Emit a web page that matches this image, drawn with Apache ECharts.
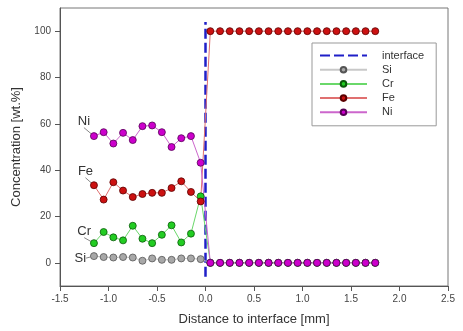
<!DOCTYPE html>
<html>
<head>
<meta charset="utf-8">
<script src="https://cdn.jsdelivr.net/npm/echarts@6/dist/echarts.min.js"></script>
<style>
  html, body { margin: 0; padding: 0; background: #fff; }
  #chart { width: 463px; height: 331px; }
</style>
</head>
<body>
<div id="chart"></div>
<script>
// distance to interface [mm]
const distance = [-1.15, -1.05, -0.95, -0.85, -0.75, -0.65, -0.55, -0.45, -0.35, -0.25, -0.15, -0.05,
  0.05, 0.15, 0.25, 0.35, 0.45, 0.55, 0.65, 0.75, 0.85, 0.95, 1.05, 1.15, 1.25, 1.35, 1.45, 1.55, 1.65, 1.75]

// concentration [wt.%]
const si = [2.9, 2.5, 2.3, 2.5, 2.3, 0.9, 1.9, 1.3, 1.3, 1.9, 1.9, 1.6,
  0, 0, 0, 0, 0, 0, 0, 0, 0, 0, 0, 0, 0, 0, 0, 0, 0, 0]
const cr = [8.5, 13.3, 11, 9.7, 16, 10.4, 8.5, 12.1, 16.2, 8.8, 12.6, 28.7,
  0, 0, 0, 0, 0, 0, 0, 0, 0, 0, 0, 0, 0, 0, 0, 0, 0, 0]
const fe = [33.5, 27.3, 34.8, 31.2, 28.4, 29.7, 30.2, 30.2, 32.3, 35.2, 30.6, 26.5,
  100, 100, 100, 100, 100, 100, 100, 100, 100, 100, 100, 100, 100, 100, 100, 100, 100, 100]
const ni = [54.7, 56.4, 51.5, 56.1, 53, 59, 59.3, 56.4, 50, 53.8, 54.7, 43.2,
  0, 0, 0, 0, 0, 0, 0, 0, 0, 0, 0, 0, 0, 0, 0, 0, 0, 0]

// interface marker line
const interfaceX = [0, 0]
const interfaceY = [-6, 104]

const yTicks = [0, 20, 40, 60, 80, 100]

const FONT = '"Liberation Sans", Arial, sans-serif'

const ELEMENTS = [
  { name: 'Si', values: si, line: '#c8c8c8', fill: '#a8a8a8', border: '#555555', shift: { dx: 1, dy: 2 } },
  { name: 'Cr', values: cr, line: '#6ad86a', fill: '#22cc22', border: '#0a5a0a', shift: { dx: 6, dy: -12 } },
  { name: 'Fe', values: fe, line: '#e07070', fill: '#cc1111', border: '#5a0000', shift: { dx: 8, dy: -14 } },
  { name: 'Ni', values: ni, line: '#cc66cc', fill: '#cc00cc', border: '#550055', shift: { dx: 5, dy: -15 } },
]

function buildSeries(el) {
  const data = distance.map((x, i) => {
    if (i !== 0) return [x, el.values[i]]
    return {
      value: [x, el.values[i]],
      label: {
        show: true,
        position: 'left',
        formatter: el.name,
        color: '#333',
        fontSize: 13,
        fontFamily: FONT,
      },
    }
  })
  return {
    name: el.name,
    type: 'line',
    data,
    symbol: 'circle',
    symbolSize: 7,
    lineStyle: { color: el.line, width: 1 },
    itemStyle: { color: el.fill, borderColor: el.border, borderWidth: 0.8 },
    labelLayout: el.shift,
    labelLine: { show: true, lineStyle: { color: '#888', width: 1 } },
    emphasis: { disabled: true },
    z: 3,
  }
}

const chart = echarts.init(document.getElementById('chart'))

chart.setOption({
  animation: false,
  backgroundColor: '#fff',
  grid: { left: 60, top: 8, right: 15, bottom: 44, show: true, borderColor: '#777', borderWidth: 1 },
  legend: {
    orient: 'vertical',
    left: 312,
    top: 43,
    padding: [7, 12, 8, 7],
    itemWidth: 47,
    itemHeight: 7,
    itemGap: 3.2,
    borderColor: '#999',
    borderWidth: 1,
    backgroundColor: '#fff',
    data: [{ name: 'interface', itemStyle: { opacity: 0 } }, 'Si', 'Cr', 'Fe', 'Ni'],
    textStyle: { color: '#333', fontSize: 11, fontFamily: FONT, padding: [0, 0, 0, 10] },
  },
  xAxis: {
    type: 'value',
    min: -1.5,
    max: 2.5,
    interval: 0.5,
    name: 'Distance to interface [mm]',
    nameLocation: 'middle',
    nameGap: 27,
    nameTextStyle: { color: '#333', fontSize: 13, fontFamily: FONT },
    axisLine: { onZero: false, lineStyle: { color: '#555' } },
    axisTick: { inside: false, length: 5, lineStyle: { color: '#555' } },
    axisLabel: { color: '#444', fontSize: 10, fontFamily: FONT, margin: 8, formatter: (v) => v.toFixed(1) },
    splitLine: { show: false },
  },
  yAxis: {
    type: 'value',
    min: -10,
    max: 110,
    name: 'Concentration [wt.%]',
    nameLocation: 'middle',
    nameGap: 32,
    nameTextStyle: { color: '#333', fontSize: 13, fontFamily: FONT },
    axisLine: { show: true, onZero: false, lineStyle: { color: '#555' } },
    axisTick: { show: true, length: 5, customValues: yTicks, lineStyle: { color: '#555' } },
    axisLabel: { color: '#444', fontSize: 10, fontFamily: FONT, margin: 9, customValues: yTicks },
    splitLine: { show: false },
  },
  series: [
    {
      name: 'interface',
      type: 'line',
      data: interfaceX.map((x, i) => [x, interfaceY[i]]),
      symbol: 'none',
      lineStyle: { color: '#1f1fc8', width: 2.5, type: [10, 4] },
      itemStyle: { color: '#1f1fc8' },
      emphasis: { disabled: true },
      z: 2,
    },
    ...ELEMENTS.map(buildSeries),
  ],
})
</script>
</body>
</html>
